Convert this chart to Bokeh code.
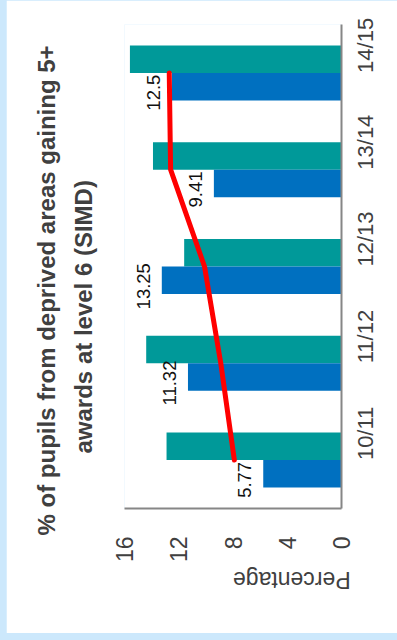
import math
from bokeh.plotting import figure
from bokeh.models import ColumnDataSource, Range1d, FactorRange, FixedTicker, Title
from bokeh.transform import dodge
from bokeh.layouts import column
from bokeh.core.properties import value
from bokeh.embed import file_html
from bokeh.resources import INLINE

# ---- data ----
years = ["10/11", "11/12", "12/13", "13/14", "14/15"]
deprived = [5.77, 11.32, 13.25, 9.41, 12.5]          # blue bars (labelled)
overall = [12.9, 14.4, 11.6, 13.9, 15.6]              # teal bars
trend = [7.9, 8.9, 10.1, 12.6, 12.7]                  # red line
value_ticks = [0, 4, 8, 12, 16]
deprived_labels = ["5.77", "11.32", "13.25", "9.41", "12.5"]
title_line1 = "% of pupils from deprived areas gaining 5+"
title_line2 = "awards at level 6 (SIMD)"
axis_title = "Percentage"

TEAL = "#009999"
BLUE = "#0070C0"
RED = "#FF0000"
AXIS_GREY = "#868686"
FONT = "Liberation Sans"

src = ColumnDataSource(dict(year=years, deprived=deprived, overall=overall,
                            trend=trend, lab=deprived_labels))

p = figure(y_range=FactorRange(factors=years), x_range=Range1d(16, 0),
           frame_width=217, frame_height=484,
           min_border_left=118, min_border_right=56,
           min_border_top=24, min_border_bottom=125,
           y_axis_location="right", toolbar_location=None,
           output_backend="svg", background_fill_color="white",
           border_fill_color="white")
p.title.visible = False
p.outline_line_color = None
p.xgrid.visible = False
p.ygrid.visible = False

p.hbar(y=dodge("year", 0.142, range=p.y_range), right="overall", left=0,
       height=0.284, source=src, fill_color=TEAL, line_color=None)
p.hbar(y=dodge("year", -0.142, range=p.y_range), right="deprived", left=0,
       height=0.284, source=src, fill_color=BLUE, line_color=None)
p.line(x="trend", y="year", source=src, line_color=RED, line_width=5,
       line_cap="round", line_join="round")
p.text(x="deprived", y=dodge("year", -0.142, range=p.y_range), text="lab",
       source=src, angle=math.pi / 2, text_align="center",
       text_baseline="bottom", x_offset=-12, y_offset=6,
       text_font=value(FONT), text_font_size="18.5px", text_color="#111111")

# value axis (below)
xa = p.xaxis[0]
xa.ticker = FixedTicker(ticks=value_ticks)
xa.major_label_orientation = math.pi / 2
xa.major_label_standoff = 22
xa.major_tick_line_color = None
xa.minor_tick_line_color = None
xa.axis_line_color = AXIS_GREY
xa.axis_line_width = 2
xa.major_label_text_font = FONT
xa.major_label_text_font_size = "23px"
xa.major_label_text_color = "#404040"
xa.axis_label = axis_title
xa.axis_label_orientation = math.pi
xa.axis_label_standoff = 15
xa.axis_label_text_font = FONT
xa.axis_label_text_font_size = "23px"
xa.axis_label_text_font_style = "normal"
xa.axis_label_text_color = "#404040"

# category axis (right)
ya = p.yaxis[0]
ya.major_label_orientation = math.pi / 2
ya.major_label_standoff = 18
ya.major_tick_line_color = None
ya.minor_tick_line_color = None
ya.axis_line_color = AXIS_GREY
ya.axis_line_width = 2
ya.major_label_text_font = FONT
ya.major_label_text_font_size = "22px"
ya.major_label_text_color = "#404040"

# two-line title on the left (spacer, then inner line, then outer line)
spacer = Title(text=" ", standoff=19, text_font_size="1px")
t2 = Title(text=title_line2, align="left", offset=55, standoff=12,
           text_font=FONT, text_font_size="24px", text_font_style="bold",
           text_color="#404040")
t1 = Title(text=title_line1, align="left", offset=-27, standoff=4,
           text_font=FONT, text_font_size="24px", text_font_style="bold",
           text_color="#404040")
p.add_layout(spacer, "left")
p.add_layout(t2, "left")
p.add_layout(t1, "left")

p.margin = (0, 0, 7, 6)
page = column(p, styles={"background-color": "#CCE8FC"})

open("out.html", "w").write(file_html(page, INLINE))
